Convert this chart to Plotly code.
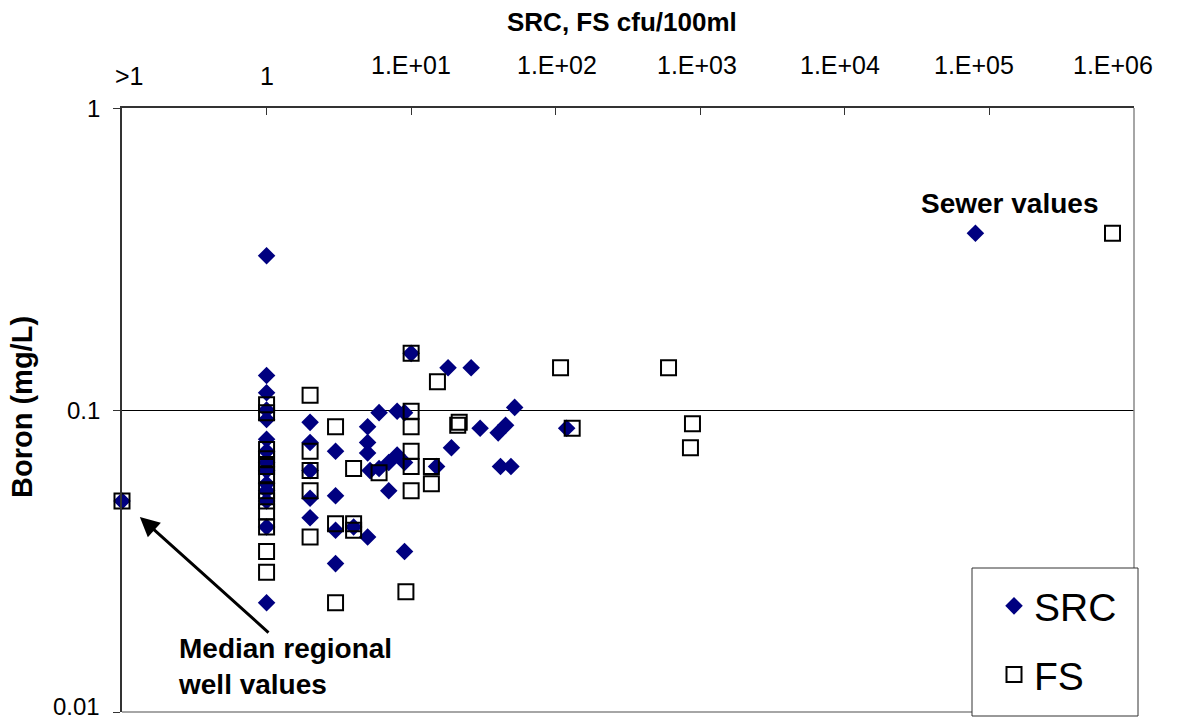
import numpy as np
import plotly.graph_objects as go

# SRC counts (cfu/100ml) and boron (mg/L)
SRC_X = [0.1,
         1, 1, 1, 1, 1, 1, 1, 1, 1, 1, 1, 1, 1, 1,
         2, 2, 2, 2, 2,
         3, 3, 3, 3,
         4,
         5, 5, 5, 5.2, 5,
         6, 6,
         7, 7,
         8, 8,
         9, 9, 9,
         10, 15, 18, 19, 26, 30, 40, 41.5, 45, 49, 52, 119, 80000]
SRC_Y = [0.050,
         0.324, 0.130, 0.114, 0.100, 0.093, 0.080, 0.073, 0.067, 0.063, 0.057, 0.054, 0.050, 0.041, 0.023,
         0.091, 0.078, 0.063, 0.051, 0.044,
         0.073, 0.052, 0.040, 0.031,
         0.041,
         0.088, 0.078, 0.072, 0.063, 0.038,
         0.098, 0.064,
         0.067, 0.054,
         0.099, 0.071,
         0.098, 0.067, 0.034,
         0.154, 0.065, 0.138, 0.075, 0.138, 0.087, 0.084, 0.065, 0.089, 0.065, 0.102, 0.087, 0.385]

# FS counts (cfu/100ml) and boron (mg/L)
FS_X = [0.1,
        1, 1, 1, 1, 1, 1, 1, 1, 1, 1, 1, 1,
        2, 2, 2, 2, 2,
        3, 3, 3,
        4, 4, 4,
        6,
        9.2,
        10, 10, 10, 10, 10, 10,
        13.8, 13.8, 15.2, 21, 21.5, 108, 130, 603, 855, 883, 710000]
FS_Y = [0.050,
        0.104, 0.098, 0.074, 0.069, 0.065, 0.061, 0.054, 0.050, 0.046, 0.041, 0.034, 0.029,
        0.112, 0.073, 0.063, 0.054, 0.038,
        0.088, 0.042, 0.023,
        0.064, 0.042, 0.040,
        0.062,
        0.025,
        0.154, 0.099, 0.088, 0.073, 0.065, 0.054,
        0.065, 0.057, 0.124, 0.089, 0.091, 0.138, 0.087, 0.138, 0.075, 0.090, 0.385]

# Axis ticks
X_TICK_VALS = [0.1, 1, 10, 100, 1e3, 1e4, 1e5, 1e6]
X_TICK_TEXT = [">1", "1", "1.E+01", "1.E+02", "1.E+03", "1.E+04", "1.E+05", "1.E+06"]
Y_TICK_VALS = [0.01, 0.1, 1]
Y_TICK_TEXT = ["0.01", "0.1", "1"]

FONT = "Liberation Sans, Arial, sans-serif"
NAVY = "#000080"

fig = go.Figure()
fig.add_trace(go.Scatter(
    x=SRC_X, y=SRC_Y, mode="markers", name="SRC", legendgroup="src",
    cliponaxis=False,
    marker=dict(symbol="diamond", size=13.5, color=NAVY, line=dict(width=0)),
))
fig.add_trace(go.Scatter(
    x=FS_X, y=FS_Y, mode="markers", name="FS", legendgroup="fs",
    cliponaxis=False,
    marker=dict(symbol="square-open", size=15, color="black", line=dict(width=2, color="black")),
))

fig.update_xaxes(
    type="log", range=[-1, 6], side="top",
    tickvals=X_TICK_VALS, showticklabels=False,
    ticks="inside", ticklen=7, tickcolor="#333", tickwidth=1,
    showline=True, linecolor="#333", linewidth=1.5,
    showgrid=False, zeroline=False,
)
fig.update_yaxes(
    type="log", range=[-2, 0],
    tickvals=Y_TICK_VALS, showticklabels=False,
    ticks="outside", ticklen=7, tickcolor="#333", tickwidth=1,
    showline=True, linecolor="#333", linewidth=1.5,
    showgrid=True, gridcolor="black", gridwidth=1, zeroline=False,
)

annotations = []
# top tick labels: the first two sit lower, the upper decades drift left a little
label_dx = [7, 0, 0, 1, -3, -5, -15, -21]
for v, t, dx in zip(X_TICK_VALS, X_TICK_TEXT, label_dx):
    low = v < 10
    annotations.append(dict(
        x=np.log10(v), xref="x", y=1, yref="paper",
        text=t, showarrow=False, xanchor="center", yanchor="middle",
        xshift=dx, yshift=32 if low else 43,
        font=dict(family=FONT, size=25, color="black"),
    ))
# left tick labels (the bottom one nudged up to stay inside the page)
for v, t in zip(Y_TICK_VALS, Y_TICK_TEXT):
    annotations.append(dict(
        x=0, xref="paper", y=np.log10(v), yref="y",
        text=t, showarrow=False, xanchor="right", yanchor="middle",
        xshift=-20, yshift=6 if v == 0.01 else 0,
        font=dict(family=FONT, size=24, color="black"),
    ))

annotations += [
    dict(text="<b>SRC, FS cfu/100ml</b>", x=(622 - 122) / 1012, xref="paper", y=1, yref="paper",
         yshift=86, showarrow=False, xanchor="center", yanchor="middle",
         font=dict(family=FONT, size=26, color="black")),
    dict(text="<b>Boron (mg/L)</b>", x=0, xref="paper", y=0.505, yref="paper",
         xshift=-100, showarrow=False, textangle=-90, xanchor="center", yanchor="middle",
         font=dict(family=FONT, size=29, color="black")),
    dict(text="<b>Sewer values</b>", x=np.log10(8e4), xref="x", y=np.log10(0.385), yref="y",
         yshift=30, xshift=34, showarrow=False, xanchor="center", yanchor="middle",
         font=dict(family=FONT, size=28, color="black")),
    dict(text="<b>Median regional<br>well values</b>", x=(176 - 122) / 1012, xref="paper", y=0.076, yref="paper",
         showarrow=False, xanchor="left", yanchor="middle", align="left",
         font=dict(family=FONT, size=28, color="black")),
    # arrow pointing at the median regional point
    dict(text="", x=np.log10(0.1), xref="x", y=np.log10(0.05), yref="y",
         ax=148, ay=133, axref="pixel", ayref="pixel", standoff=24,
         showarrow=True, arrowhead=2, arrowsize=1.3, arrowwidth=3, arrowcolor="black"),
]

shapes = [
    # right and bottom frame lines
    dict(type="line", xref="paper", yref="paper", x0=1, x1=1, y0=0, y1=1,
         line=dict(color="#888", width=1.5), layer="above"),
    dict(type="line", xref="paper", yref="paper", x0=0, x1=1, y0=0, y1=0,
         line=dict(color="#888", width=1.5), layer="above"),
    # legend frame
    dict(type="rect", xref="paper", yref="paper",
         x0=(972 - 122) / 1012, x1=(1138 - 122) / 1012,
         y0=(712 - 716) / 604, y1=(712 - 568) / 604,
         line=dict(color="#333", width=1), fillcolor="white", layer="above"),
]

fig.update_layout(
    width=1184, height=722,
    margin=dict(l=122, r=50, t=108, b=10),
    plot_bgcolor="white", paper_bgcolor="white",
    font=dict(family=FONT, color="black"),
    showlegend=True,
    legend=dict(
        x=(994 - 122) / 1012, xanchor="left",
        y=(712 - 574) / 604, yanchor="top",
        bgcolor="rgba(0,0,0,0)", borderwidth=0,
        font=dict(family=FONT, size=39, color="black"),
        traceorder="grouped", tracegroupgap=15,
    ),
    annotations=annotations,
    shapes=shapes,
)

fig.write_html("out.html")
